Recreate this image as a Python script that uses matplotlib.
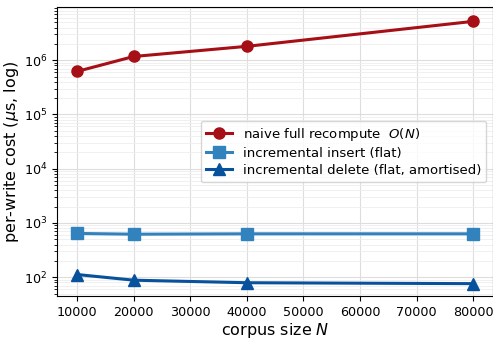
import numpy as np
import matplotlib.pyplot as plt

# corpus sizes and per-write costs (microseconds)
corpus_n = [10000, 20000, 40000, 80000]
naive_cost = [6.2e5, 1.17e6, 1.8e6, 5.2e6]
insert_cost = [640, 620, 630, 630]
delete_cost = [112, 88, 79, 76]

fig, ax = plt.subplots(figsize=(4.93, 3.41), dpi=100)
fig.subplots_adjust(left=0.116, right=1.0, top=0.979, bottom=0.132)

ax.plot(corpus_n, naive_cost, color='#a50f15', marker='o', lw=2.2, ms=8,
        label=r'naive full recompute  $O(N)$')
ax.plot(corpus_n, insert_cost, color='#3182bd', marker='s', lw=2.2, ms=8,
        label='incremental insert (flat)')
ax.plot(corpus_n, delete_cost, color='#08519c', marker='^', lw=2.2, ms=8,
        label='incremental delete (flat, amortised)')

ax.set_yscale('log')
ax.set_ylim(45, 9.5e6)
ax.set_xlim(6500, 83500)
ax.grid(True, which='major', color='#dddddd', lw=0.8)
ax.grid(True, which='minor', axis='y', color='#eeeeee', lw=0.6)
ax.tick_params(labelsize=9.2)
ax.set_xlabel(r'corpus size $N$', fontsize=11.5, labelpad=2)
ax.set_ylabel(r'per-write cost ($\mu$s, log)', fontsize=11.5, labelpad=2)
ax.legend(loc='center right', fontsize=9.5, bbox_to_anchor=(1.0, 0.5),
          labelspacing=0.3, handlelength=2.0)

fig.savefig('out.png')
